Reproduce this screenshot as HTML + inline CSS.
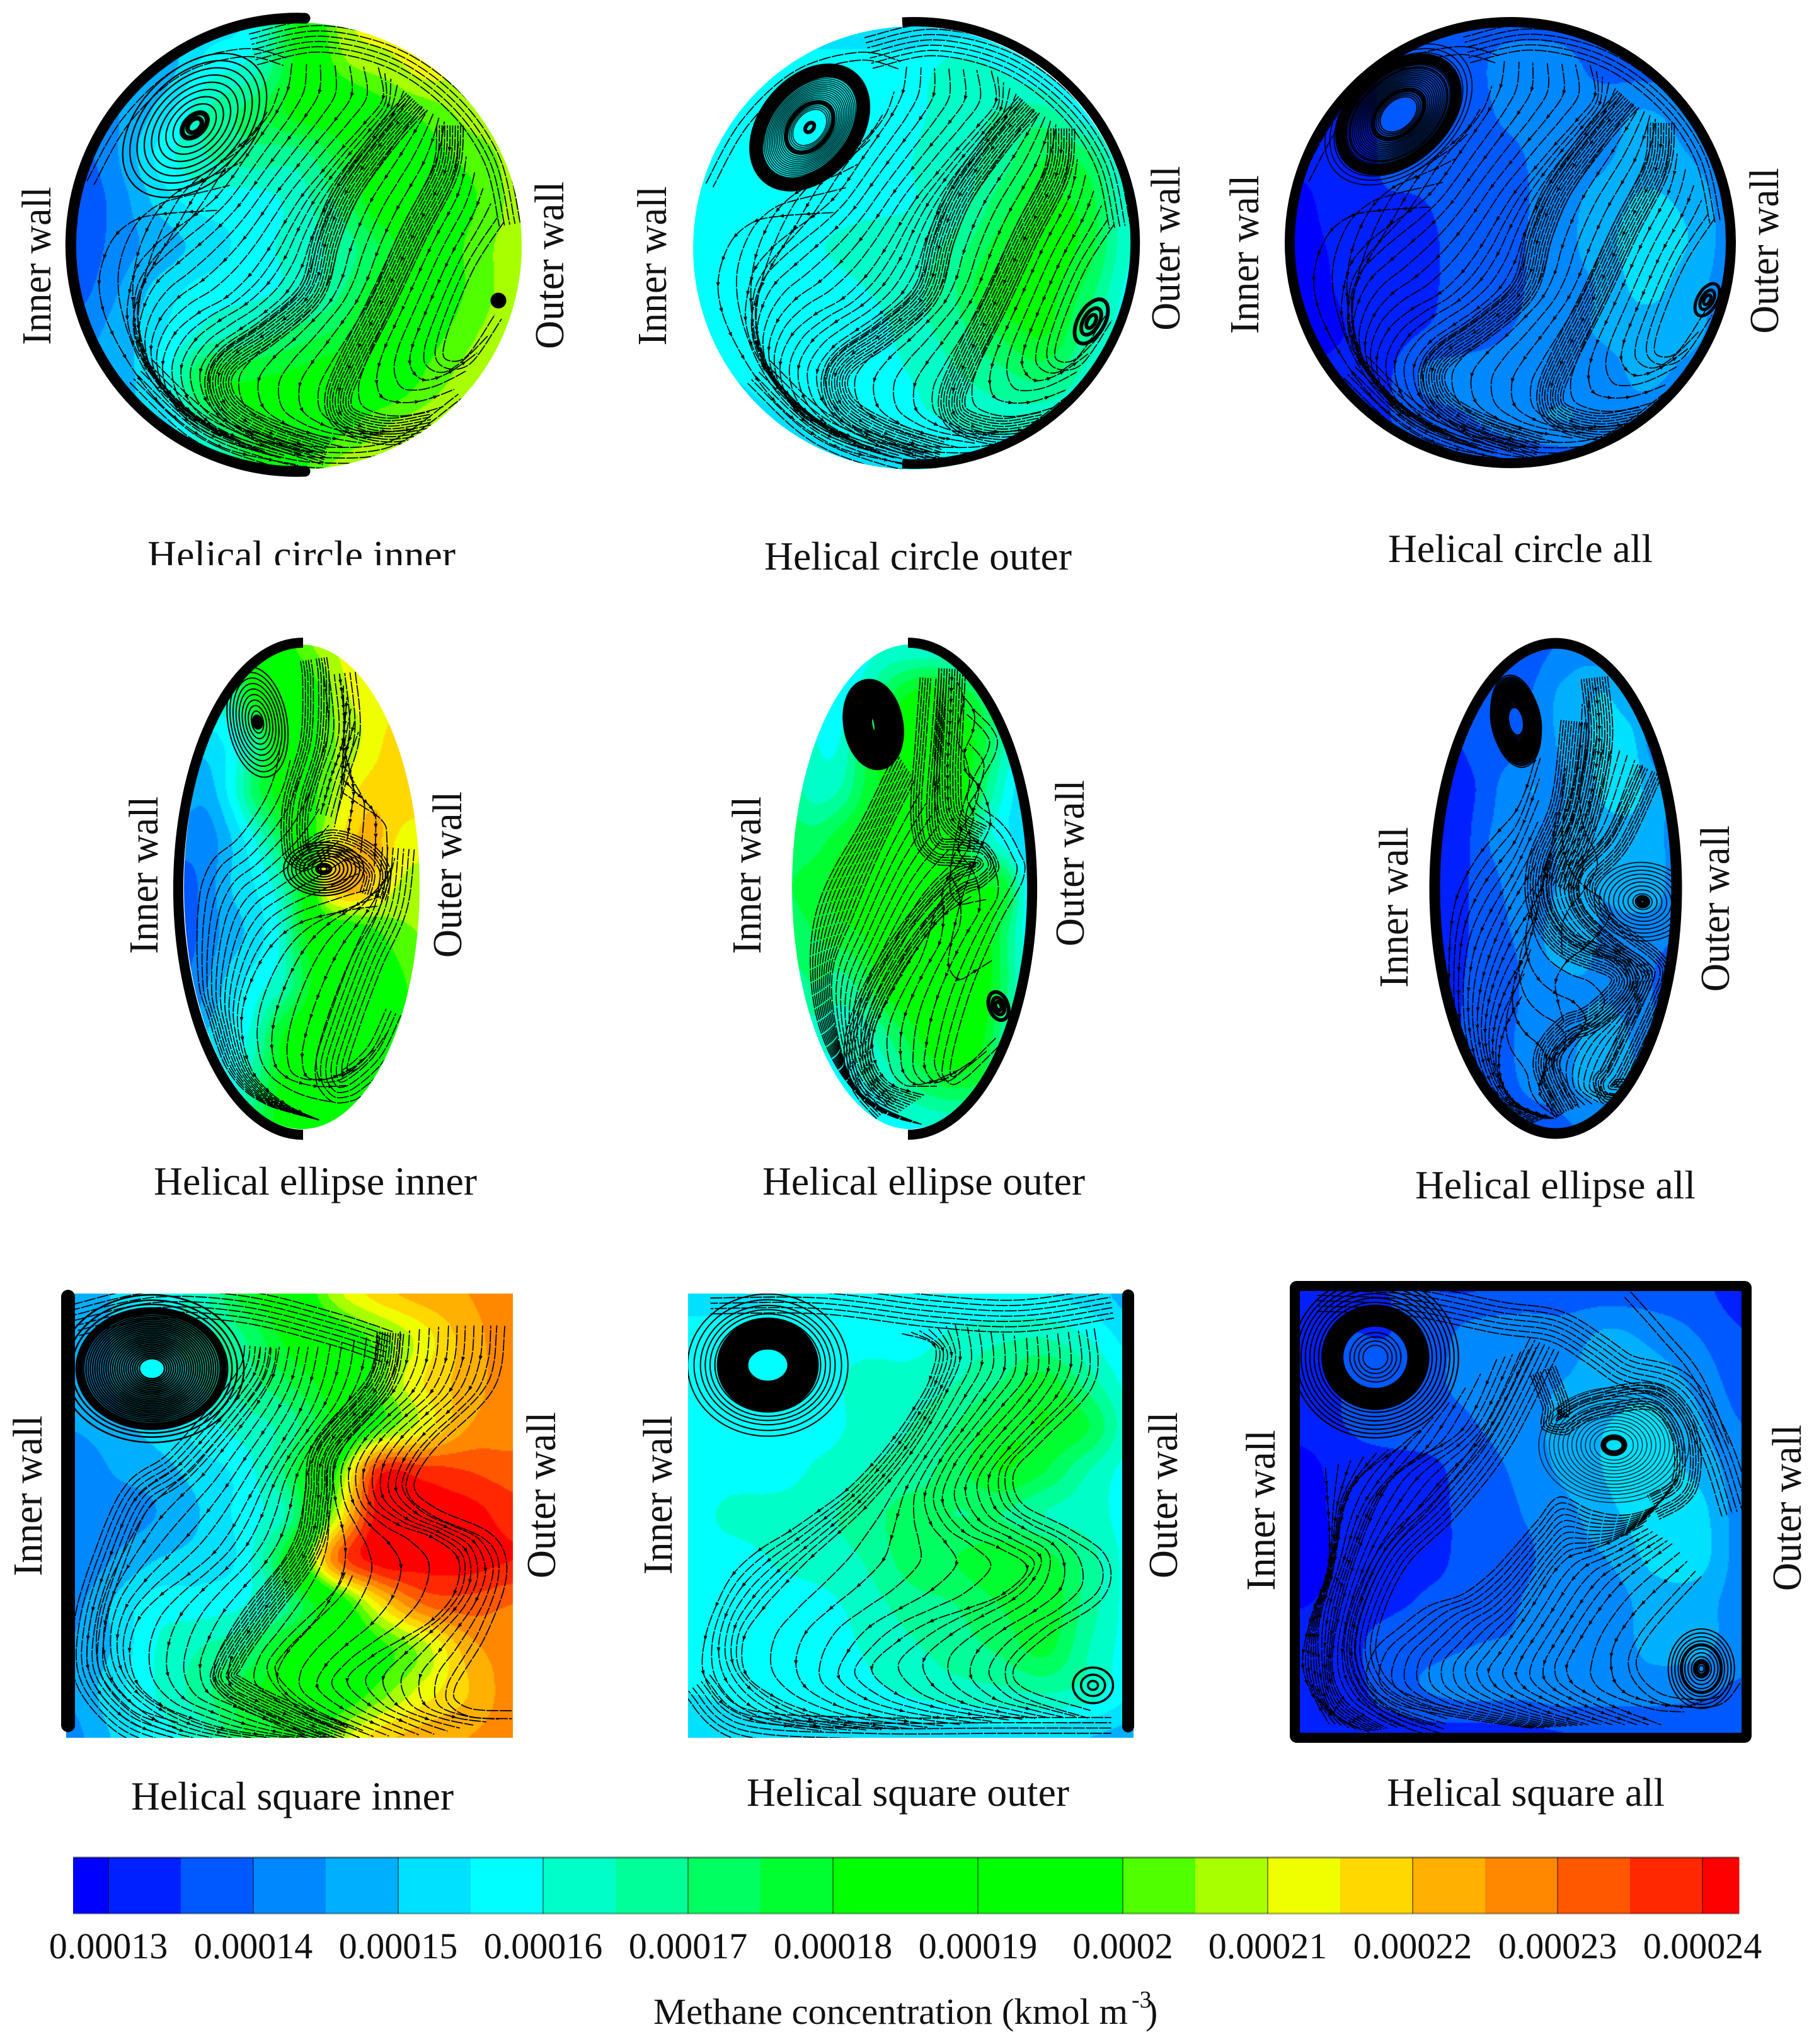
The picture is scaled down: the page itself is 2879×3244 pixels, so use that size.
<!DOCTYPE html>
<html lang="en">
<head>
<meta charset="utf-8">
<title>Methane concentration contours with streamlines</title>
<style>
html,body{margin:0;padding:0;background:#fff}
#stage{position:relative;width:2879px;height:3244px;overflow:hidden;background:#fff}
canvas{position:absolute;display:block}
svg#overlay{position:absolute;left:0;top:0}
text{font-family:"Liberation Serif","Times New Roman",serif;fill:#111}
.wall{fill:none;stroke:#000}
</style>
</head>
<body>
<div id="stage">
<svg id="overlay" xmlns="http://www.w3.org/2000/svg" width="2879" height="3244" viewBox="0 0 2879 3244">
  <defs>
    <marker id="flow-arrow" markerUnits="userSpaceOnUse" markerWidth="8" markerHeight="6" refX="4" refY="3" orient="auto"><path d="M0 0L8 3L0 6Z" fill="#000"/></marker>
    <clipPath id="caption-clip"><rect x="200" y="840" width="560" height="57"/></clipPath>
  </defs>
  <g id="flow-layer"></g>

  <path class="wall" stroke-width="17" stroke-linecap="round" d="M484 29A359.7 359.7 0 1 0 484 748"/>
  <path class="wall" stroke-width="15" d="M1432 35A351 351 0 1 1 1432 736"/>
  <ellipse class="wall" stroke-width="16" cx="2397" cy="385" rx="350" ry="350"/>
  <path class="wall" stroke-width="16" d="M481 1020A198 390.5 0 1 0 481 1801"/>
  <path class="wall" stroke-width="16" d="M1441 1020A197 390.5 0 1 1 1441 1801"/>
  <ellipse class="wall" stroke-width="17" cx="2469" cy="1410" rx="192" ry="389"/>
  <path class="wall" stroke-width="22" stroke-linecap="round" d="M108 2058V2738"/>
  <path class="wall" stroke-width="19" stroke-linecap="round" d="M1790.5 2056V2740"/>
  <rect class="wall" stroke-width="16" x="2055" y="2041" width="717" height="717" rx="3"/>

  <g font-size="66" text-anchor="middle">
    <text transform="translate(80 422) rotate(-90)" textLength="251" lengthAdjust="spacingAndGlyphs">Inner wall</text>
    <text transform="translate(894 421) rotate(-90)" textLength="266" lengthAdjust="spacingAndGlyphs">Outer wall</text>
    <text transform="translate(1057 422) rotate(-90)" textLength="253" lengthAdjust="spacingAndGlyphs">Inner wall</text>
    <text transform="translate(1872 394) rotate(-90)" textLength="261" lengthAdjust="spacingAndGlyphs">Outer wall</text>
    <text transform="translate(1997 404) rotate(-90)" textLength="252" lengthAdjust="spacingAndGlyphs">Inner wall</text>
    <text transform="translate(2822 398) rotate(-90)" textLength="263" lengthAdjust="spacingAndGlyphs">Outer wall</text>
    <text transform="translate(250 1389) rotate(-90)" textLength="250" lengthAdjust="spacingAndGlyphs">Inner wall</text>
    <text transform="translate(732 1388) rotate(-90)" textLength="264" lengthAdjust="spacingAndGlyphs">Outer wall</text>
    <text transform="translate(1207 1389) rotate(-90)" textLength="250" lengthAdjust="spacingAndGlyphs">Inner wall</text>
    <text transform="translate(1720 1370) rotate(-90)" textLength="264" lengthAdjust="spacingAndGlyphs">Outer wall</text>
    <text transform="translate(2234 1440) rotate(-90)" textLength="255" lengthAdjust="spacingAndGlyphs">Inner wall</text>
    <text transform="translate(2744 1442) rotate(-90)" textLength="264" lengthAdjust="spacingAndGlyphs">Outer wall</text>
    <text transform="translate(66 2374) rotate(-90)" textLength="255" lengthAdjust="spacingAndGlyphs">Inner wall</text>
    <text transform="translate(881 2373) rotate(-90)" textLength="264" lengthAdjust="spacingAndGlyphs">Outer wall</text>
    <text transform="translate(1066 2373) rotate(-90)" textLength="252" lengthAdjust="spacingAndGlyphs">Inner wall</text>
    <text transform="translate(1868 2373) rotate(-90)" textLength="264" lengthAdjust="spacingAndGlyphs">Outer wall</text>
    <text transform="translate(2023 2397) rotate(-90)" textLength="255" lengthAdjust="spacingAndGlyphs">Inner wall</text>
    <text transform="translate(2858 2393) rotate(-90)" textLength="264" lengthAdjust="spacingAndGlyphs">Outer wall</text>
  </g>

  <g font-size="64">
    <g clip-path="url(#caption-clip)">
      <text x="234" y="902" textLength="489" lengthAdjust="spacingAndGlyphs">Helical circle inner</text>
    </g>
    <text x="1213" y="904" textLength="488" lengthAdjust="spacingAndGlyphs">Helical circle outer</text>
    <text x="2203" y="892" textLength="420" lengthAdjust="spacingAndGlyphs">Helical circle all</text>
    <text x="244" y="1896" textLength="513" lengthAdjust="spacingAndGlyphs">Helical ellipse inner</text>
    <text x="1210" y="1896" textLength="512" lengthAdjust="spacingAndGlyphs">Helical ellipse outer</text>
    <text x="2246" y="1902" textLength="445" lengthAdjust="spacingAndGlyphs">Helical ellipse all</text>
    <text x="208" y="2872" textLength="512" lengthAdjust="spacingAndGlyphs">Helical square inner</text>
    <text x="1185" y="2866" textLength="512" lengthAdjust="spacingAndGlyphs">Helical square outer</text>
    <text x="2201" y="2866" textLength="441" lengthAdjust="spacingAndGlyphs">Helical square all</text>
  </g>

  <g id="colorbar"></g>

  <g>
    <text x="1037" y="3212" font-size="58" textLength="753" lengthAdjust="spacingAndGlyphs">Methane concentration (kmol m</text>
    <text x="1796" y="3186" font-size="38">-3</text>
    <text x="1818" y="3212" font-size="58">)</text>
  </g>
</svg>
</div>

<script>
/* Colour scale: one colour per contour band */
const levelColors = ['#0000ff','#0020ff','#0058ff','#0088ff','#00b0ff','#00e0ff','#00ffff','#00ffc8','#00ff98','#00ff60','#00ff30','#00ff00','#00ff00','#00ff00','#00ff00','#50ff00','#a8ff00','#f0ff00','#ffd800','#ffb000','#ff8800','#ff5800','#ff2800','#ff0000'];
const tickLabels = ['0.00013','0.00014','0.00015','0.00016','0.00017','0.00018','0.00019','0.0002','0.00021','0.00022','0.00023','0.00024'];

/* Concentration fields, sampled on an 11x11 grid over each panel.
   level = (c - 0.00013) / 0.000005 + 0.5, rounded to a colour band. */
const fieldCircleInner = [
[4,4,4.5,5,6,11,16,17,17,17,17],
[4,4,4,6,7,11,15,16,17,16,16],
[3,3.5,5,7.5,9,11,12,14,15,16,16],
[2,3.5,6,7.5,8,8,10,12,14,15,16],
[1.5,3,5,6,6,7,9,12,13,14.5,16],
[1.5,3,4,5,6,7,8,10,13,15,16],
[2,3.5,5,6,6.2,7,8.5,11,13,15,16],
[3,4,5.5,7,8,9,10,12,14,15.5,16],
[4,4,6,10,10.5,11,12,13,15,16,16],
[4,4.5,5,8,10.5,12,14,15.5,16,16,16],
[5,5,5.5,6,10,14,16,16,16,16,16]];
const fieldCircleOuter = [
[5,5,5,5,5,5,5,5,5,5,5],
[6,6,6,6,6,6,7,6.5,5.5,5,5],
[6,6,6,6,6,6.3,7,7.6,8,6,5],
[6,6,6,6,6,6.5,7,8,9.5,9,5.5],
[6,6,6,6,6.2,6.5,7,9,10.5,10,6.5],
[6,6,6,6.5,7,7,8,10,11,10,6.5],
[6,6,6,6,6.5,7.2,8.5,11,11,9,6],
[6,6,6,6,6,7,8,9.5,10.5,8,5.5],
[5.5,5.5,6,6,6,6.5,7.3,8,8.5,7,5.5],
[5,5,5.3,5.8,6,6.2,6.5,6.8,6.5,6,5],
[5,5,5,5,5,5,5.5,5.5,5,5,5]];
const fieldCircleAll = [
[1.5,1.5,1.5,1.5,2,2,2,2,2,2,2],
[1.5,1.5,1.5,1.7,2,3,3,2.2,2,2,2],
[1,1,1.5,2,2,2.8,3,3,3.5,3,2.5],
[1,1,1.5,2,2,2.3,3,3.2,4,3.5,2.6],
[0,0.9,1.4,1.5,2,2.2,3,3.8,4.6,4.2,3],
[0,0.6,1,1.2,2,2.3,3,4,5,4.5,3],
[0,0.5,0.9,1.2,2,2.3,3,3.6,4.8,4,3],
[0,0.4,0.8,1.5,2,2.5,2.9,3.6,4,3.8,3],
[0.7,0.7,1,2.6,2.9,2.9,3,3,3.7,3.2,2.7],
[1,1,1.3,2,2.4,3,3.5,3.3,3,2.6,2],
[1,1,1,1.5,1.6,1.6,1.8,1.9,1.8,1.6,1.5]];
const fieldEllipseInner = [
[8,9,10,11,13,15,16,17,17,17,17],
[8,7,8,11,13,13,15,16.5,17,17,17],
[5,5,6,8,11,13,15,16,17,18,18],
[4,4,6,9,11,13.5,15,17,18,18,18],
[3,3,4.5,6.5,9,12,16,18,19,17.5,17],
[2,3,4.5,5.5,7,10.5,17,19,18,16.5,16],
[2,3,4,5,6.5,10,12.5,13,14,15,15.5],
[2.5,3.5,5,6,7,9.5,12,13,13,14,15],
[3,4.5,5.5,7,10,11.5,13,13,13,13.5,15],
[4,5,6,8,10.5,12,13,13,13,14,15],
[5,6,7,9,11,12.5,13,14,14,15,15]];
const fieldEllipseOuter = [
[6,6,6,6,6.5,6.5,6.5,6.5,6,5.5,5],
[6,6,6,7,9,10.5,11,10,9,7,5.5],
[7,6.5,6.5,9,11,12,12,11.5,10,7.5,5.5],
[8,7,7.5,9.5,11,12,12,11.5,9,6.5,4.5],
[9,9,10,11,12,12,12,11,7.5,6,4.5],
[9.5,10,11,12,12,12,12,11,10.5,10,6],
[9,9.5,10,10.5,12,12,12,12,11.5,9,6],
[8,8.5,8,9,11,12,12,12,11.5,9,6],
[7,7,7,7,8.5,10,11.5,12,11,8,6],
[6,6,6,6.5,7,8.5,9.5,10,9.5,7,6],
[6,5.5,5.5,5.5,6,6.2,6.5,6.5,6,6,5.5]];
const fieldEllipseAll = [
[2,2,2,2,2,2.5,3,2.5,2,2,2],
[1.5,1.5,2,2,2.5,3.5,4,4.5,3.5,2.5,2],
[1.5,1.5,2,2,3,3.5,4,5,5,3,2.5],
[1,1,1.8,3,3.5,3.3,4,4.7,5,4,3],
[0.5,0.8,2.3,2.8,3,3.5,4,4,4,3.8,3.2],
[0.7,1.2,2,2.6,2.8,3.5,4,3.6,4,4,3],
[1,1.2,2,2.4,3,3.9,4,3.3,3,2.8,2.5],
[1,1.4,2,2,3,3.2,3.4,3.3,3,2.5,2],
[1.2,1.5,2,2.3,3,3,3.5,4,3.5,2.7,2],
[1.5,1.8,2,2.3,2.7,3,3.6,4,3.6,2.8,2],
[1.5,2,2,2,2,2,2.5,2.5,2,2,2]];
const fieldSquareInner = [
[4,4.5,6,7,10,12,16,18,19,19.5,20],
[4,4.5,6,7,8.5,11,13,15,17,19,20],
[3.5,4.5,6,6.5,8,9.5,11.5,15,17.5,19,20],
[3.5,4,5,6,7,8,11,14.5,17,19.5,20],
[2.5,3.5,4,5,6,9,14,22,22,21.5,21],
[2.5,3,3.5,4.5,6,8,16,23,23,23,22],
[2.5,3.5,4.5,5,6,11,20,23,23,23,22.5],
[3,4.5,6,6,6.5,8.5,12.5,17.5,20.5,21,20.5],
[3.5,4.5,6.5,7.5,8.5,11,12.5,14,16,19,20],
[3.5,5,6.5,8,10,11.5,13,15,17,18.5,20],
[3,4.5,6,7,9.5,11,15.5,18,19,19.5,20]];
const fieldSquareOuter = [
[5,5,5.5,5.5,5.5,5.5,5.5,5.5,5.5,5,4],
[6,6,6,6,6,6,6.8,7.3,7.5,6.5,5],
[6,6,6,6,7,7,7.5,8.5,10,8,6],
[6,6,6,6,7,7.5,8.5,10,10.5,9.5,6.5],
[6,6,6,6.8,7.5,8,9,10.5,9.5,7.5,6],
[6,6.8,7,7.3,8,9,8.5,8.5,7.5,7,6],
[6,6,6.6,7,7.6,9,9.5,10.3,10,8,6],
[6,6,6,6.2,7,8,8.5,9.5,10.2,8,6],
[6,6,6,6,6.6,7.3,8,8.7,9.8,7.5,6],
[5.5,5.7,6,6,6.2,6.6,7,7.2,7.5,7,5.5],
[5,5,5,5,5,5,5,5,5,4.5,4]];
const fieldSquareAll = [
[1,1,1.5,1.5,1.5,2,2,2,2,1.8,1],
[1,1.5,1.5,2,3,3,3,3.7,3.2,2.5,1.6],
[1,1.5,2,2.4,2.7,3,3.5,4,4,3.2,2],
[1,1.5,2,2.2,2.5,2.9,4,4.5,4.8,3.7,2.5],
[0,1,1.1,1.3,2.2,2.7,3.8,4.6,5,4.2,3],
[0,0.8,1,1.2,2,2.5,3.2,4.3,5,4.9,3],
[0,0.7,1,1.2,2,2.3,3,3.6,4.8,5,3],
[0.4,0.8,1.2,1.7,2,2.5,3,3,4,4,3],
[0.9,1.1,2,2.2,2.5,2.6,3,3,3.8,3.8,3],
[0.9,1,2,2.6,2.9,2.8,3.1,3,3,2.8,2.3],
[0.5,1,1,1.2,1.2,1.3,1.5,1.7,1.8,1.8,1.5]];

/* Spacing of parallel streamlines around a trace, as a share of panel size */
const offsetsDense = [-.03,-.024,-.018,-.012,-.006,.006,.012,.018,.024,.03];
const offsetsMid = [-.036,-.024,-.012,0,.012,.024,.036];
const offsetsPair = [-.012,.006];

/* Positions between two neighbouring traces at which a streamline runs */
const betweenDense = [0,.1,.2,.3,.4,.5,.6,.7,.8,.9];
const betweenMid = [0,.17,.33,.5,.67,.83];
const betweenSparse = [0,.3,.6];

/* Streamline traces */
const circleTraceA = [[.68,.10],[.69,.17],[.60,.28],[.50,.40],[.44,.50],[.36,.60],[.25,.67],[.20,.75],[.22,.85],[.30,.92],[.45,.97]];
const circleTraceB = [[.765,.178],[.696,.257],[.609,.378],[.565,.483],[.53,.604],[.435,.691],[.348,.752],[.322,.804],[.348,.865],[.435,.917],[.565,.961]];
const circleTraceC = [[.84,.23],[.83,.33],[.76,.47],[.69,.62],[.62,.76],[.59,.84],[.61,.89],[.70,.915],[.80,.90]];
const circleTraceD = [[.95,.44],[.88,.55],[.82,.70],[.82,.76],[.88,.76],[.95,.66]];
const circleTraceE = [[.32,.42],[.14,.44],[.07,.52],[.06,.62],[.11,.74],[.20,.86],[.33,.95],[.50,.99]];
const circleTraceF = [[.40,.06],[.55,.03],[.72,.07],[.86,.17],[.95,.30],[.985,.45]];
const circleTraceG = [[.15,.78],[.28,.90],[.42,.96],[.55,.985],[.72,.97],[.88,.86]];
const circleTraceH = [[.487,.091],[.47,.17],[.391,.291],[.313,.396],[.2,.483],[.139,.552],[.122,.683],[.191,.813],[.278,.9]];
const circleTraceI = [[.04,.36],[.12,.22],[.24,.11],[.38,.07],[.47,.09]];

/* Streamline traces */
const ellipseInnerTraceA = [[.41,.205],[.368,.295],[.245,.392],[.112,.452],[.061,.541],[.061,.69],[.102,.765],[.184,.877],[.327,.944],[.573,.981]];
const ellipseInnerTraceB = [[.82,.54],[.68,.55],[.47,.58],[.33,.65],[.245,.765],[.286,.877],[.418,.944],[.573,.981]];
const ellipseInnerTraceC = [[.91,.42],[.88,.54],[.777,.653],[.675,.787],[.624,.877],[.675,.914],[.828,.854],[.92,.765]];
const ellipseInnerTraceD = [[.757,.205],[.665,.317],[.726,.347],[.879,.384],[.91,.42],[.92,.51]];
const ellipseInnerTraceE = [[.55,.03],[.56,.08],[.55,.2],[.48,.32],[.47,.40],[.50,.44],[.62,.41],[.75,.43],[.82,.47],[.8,.52]];
const ellipseInnerTraceF = [[.66,.06],[.68,.18],[.62,.28],[.58,.35]];
const ellipseOuterTraceA = [[.60,.07],[.58,.2],[.56,.35],[.6,.42],[.72,.43],[.82,.44],[.80,.47],[.68,.5],[.5,.6],[.35,.72],[.28,.82],[.30,.9],[.40,.96]];
const ellipseOuterTraceB = [[.75,.14],[.85,.2],[.78,.28],[.76,.33],[.88,.38],[.95,.44],[.96,.48],[.85,.58],[.73,.72],[.65,.87],[.7,.9],[.88,.82]];
const ellipseOuterTraceC = [[.44,.22],[.3,.36],[.14,.5],[.08,.62],[.10,.76],[.2,.88],[.36,.96],[.55,.99]];
const ellipseOuterTraceD = [[.52,.28],[.38,.42],[.26,.56],[.17,.68],[.2,.82],[.28,.92],[.44,.97]];
const ellipseOuterTraceE = [[.68,.05],[.67,.16],[.66,.27],[.68,.36],[.8,.40]];
const ellipseOuterTraceF = [[.76,.52],[.6,.58],[.42,.72],[.34,.82],[.4,.9],[.56,.93]];
const ellipseAllTraceA = [[.577,.159],[.535,.326],[.44,.447],[.44,.538],[.545,.614],[.754,.659],[.775,.705],[.65,.765],[.545,.788],[.46,.856],[.545,.955]];
const ellipseAllTraceB = [[.89,.258],[.754,.402],[.618,.477],[.63,.538],[.754,.598],[.911,.659],[.9,.705],[.754,.864],[.702,.909],[.806,.917]];
const ellipseAllTraceC = [[.44,.19],[.35,.33],[.2,.42],[.09,.52],[.06,.65],[.08,.8],[.2,.93],[.4,.98]];
const ellipseAllTraceD = [[.42,.45],[.3,.55],[.2,.68],[.18,.8],[.26,.92],[.45,.97]];
const ellipseAllTraceE = [[.66,.07],[.68,.2],[.62,.36],[.52,.50]];
const ellipseAllTraceF = [[.36,.72],[.28,.8],[.27,.88],[.34,.94],[.5,.97]];

/* Streamline traces */
const squareInnerTraceA = [[.726,.088],[.702,.202],[.581,.349],[.565,.454],[.54,.576],[.435,.723],[.37,.821],[.362,.878],[.5,.951],[.621,1]];
const squareInnerTraceB = [[.435,.12],[.41,.2],[.257,.382],[.16,.455],[.095,.6],[.054,.739],[.054,.861],[.135,.959],[.24,1]];
const squareInnerTraceC = [[.564,.12],[.53,.25],[.435,.413],[.338,.576],[.2,.69],[.143,.78],[.176,.9],[.338,.975],[.5,1]];
const squareInnerTraceD = [[.856,.072],[.832,.202],[.702,.332],[.662,.438],[.726,.511],[.856,.568],[.88,.642],[.824,.731],[.678,.821],[.629,.878],[.694,.935],[.824,.992]];
const squareInnerTraceE = [[.97,.072],[.946,.21],[.81,.349],[.767,.438],[.824,.495],[.946,.552],[.974,.633],[.929,.764],[.856,.894],[.897,.944],[.998,.951]];
const squareInnerTraceF = [[.02,.06],[.2,.02],[.4,.03],[.6,.08],[.72,.12]];
const squareInnerTraceG = [[.63,.63],[.6,.68],[.48,.8],[.46,.86],[.54,.94],[.66,.995]];
const squareOuterTraceA = [[.48,.09],[.56,.13],[.50,.27],[.38,.42],[.25,.52],[.11,.62],[.04,.77],[.04,.87],[.12,.95],[.30,.985]];
const squareOuterTraceB = [[.6,.07],[.61,.15],[.52,.33],[.40,.48],[.27,.60],[.16,.72],[.12,.80],[.15,.88],[.30,.95],[.50,.98]];
const squareOuterTraceC = [[.76,.10],[.76,.18],[.64,.33],[.58,.42],[.58,.50],[.66,.56],[.75,.59],[.75,.65],[.65,.70],[.52,.75],[.42,.83],[.43,.88],[.55,.93],[.72,.96]];
const squareOuterTraceD = [[.9,.08],[.9,.2],[.78,.33],[.72,.40],[.74,.48],[.85,.54],[.93,.60],[.92,.68],[.80,.76],[.72,.84],[.75,.90],[.9,.95]];
const squareOuterTraceE = [[.05,.01],[.3,.01],[.55,.04],[.75,.05],[.95,.02]];
const squareOuterTraceF = [[.02,.88],[.12,.97],[.4,.99],[.7,.99],[.95,.99]];
const squareAllTraceLeftA = [[.058,.40],[.066,.61],[.025,.74],[.008,.86],[.066,.98]];
const squareAllTraceLeftB = [[.231,.35],[.116,.449],[.074,.638],[.041,.777],[.066,.941],[.157,.998]];
const squareAllTraceLeftC = [[.446,.154],[.364,.318],[.215,.416],[.124,.613],[.074,.818],[.1,.925],[.198,.99]];
const squareAllTraceLeftD = [[.554,.121],[.446,.334],[.331,.482],[.215,.597],[.149,.736],[.14,.843],[.2,.93],[.33,.98]];
const squareAllTraceMidA = [[.86,.416],[.80,.49],[.694,.507],[.579,.466],[.529,.531],[.397,.67],[.281,.72],[.149,.843],[.198,.925],[.364,.966],[.529,.99]];
const squareAllTraceMidB = [[.777,.531],[.678,.58],[.595,.613],[.512,.736],[.438,.843],[.43,.884],[.529,.941],[.653,.982]];
const squareAllTraceMidC = [[.843,.572],[.719,.67],[.628,.80],[.607,.875],[.694,.933],[.818,.982]];
const squareAllTraceMidD = [[.90,.638],[.777,.777],[.752,.859],[.818,.925],[.942,.933],[.992,.884]];
const squareAllTraceWave = [[.55,.18],[.58,.26],[.58,.30],[.66,.26],[.80,.24],[.87,.32],[.87,.44],[.80,.49]];
const squareAllTraceTop = [[.04,.01],[.25,.02],[.45,.06],[.58,.08],[.68,.14],[.74,.18],[.86,.22],[.94,.35],[.99,.5]];
const squareAllTraceCorner = [[.74,.01],[.82,.1],[.9,.2],[.96,.35]];

/* Rotating cores: centre x, centre y, semi-axis x, semi-axis y, tilt */
const coreCircleInnerMain = [.27,.23,.19,.125,-45];
const coreCircleInnerSmall = [.948,.622,.012,.012,0];
const coreCircleOuterMain = [.266,.228,.155,.105,-50];
const coreCircleOuterSmall = [.908,.666,.03,.055,30];
const coreCircleAllMain = [.248,.211,.16,.105,-42];
const coreCircleAllSmall = [.944,.629,.022,.04,30];
const coreEllipseInnerMain = [.312,.16,.125,.115,-10];
const coreEllipseInnerSecond = [.593,.463,.17,.055,0];
const coreEllipseOuterMain = [.345,.165,.125,.108,-10];
const coreEllipseOuterSmall = [.876,.746,.04,.03,-20];
const coreEllipseAllMain = [.336,.159,.1,.095,-10];
const coreEllipseAllSecond = [.859,.527,.2,.08,5];
const coreSquareInnerMain = [.192,.169,.166,.134,0];
const coreSquareOuterMain = [.179,.161,.18,.16,0];
const coreSquareOuterSmall = [.909,.882,.045,.04,0];
const coreSquareAllMain = [.171,.15,.165,.16,0];
const coreSquareAllSecond = [.711,.349,.17,.13,0];
const coreSquareAllThird = [.909,.855,.075,.09,0];

const ringsOpen = [.08,.2,.3,.4,.5,.6,.7,.8,.9,1];
const ringsFine = [.3,.33,.36,.39,.42,.45,.48,.51,.54,.57,.6,.63,.66,.69,.72,.75,.78,.81,.84,.87,.9,.93,.96,1];
const ringsSpaced = [.26,.32,.38,.44,.5,.56,.62,.68,.74,.8,.86,.93,1];
const ringsCrowded = [.17,.2,.23,.26,.29,.32,.35,.38,.41,.44,.47,.5,.53,.56,.59,.62,.65,.68,.71,.74,.77,.8,.83,.86,.89,.92,.95,.98,1.02,1.08,1.15,1.24];
const ringsOuterHalo = [.8,.86,.92,.98,1.05,1.12,1.2];

const svgNS = 'http://www.w3.org/2000/svg';
const flowLayer = document.getElementById('flow-layer');
const stage = document.getElementById('stage');

function bandForLevel(level) {
  return Math.max(0, Math.min(levelColors.length - 1, Math.round(level)));
}
function hexToRgb(hex) {
  return [parseInt(hex.slice(1,3),16), parseInt(hex.slice(3,5),16), parseInt(hex.slice(5,7),16)];
}
const levelRgb = levelColors.map(hexToRgb);

function cubic(a, b, c, d, t) {
  return b + 0.5*t*(c-a + t*(2*a-5*b+4*c-d + t*(3*(b-c)+d-a)));
}
function sampleField(field, u, v) {
  const n = field.length - 1, m = field[0].length - 1;
  const gx = u*m, gy = v*n;
  const ix = Math.min(m-1, Math.floor(gx)), iy = Math.min(n-1, Math.floor(gy));
  const tx = gx-ix, ty = gy-iy;
  const rowVals = [];
  for (let j = -1; j <= 2; j++) {
    const r = field[Math.max(0, Math.min(n, iy+j))];
    rowVals.push(cubic(r[Math.max(0,ix-1)], r[ix], r[ix+1], r[Math.min(m,ix+2)], tx));
  }
  return cubic(rowVals[0], rowVals[1], rowVals[2], rowVals[3], ty);
}

function drawField(slug, field, box, round) {
  const canvas = document.createElement('canvas');
  
  
  const w = Math.round(box.w/2), h = Math.round(box.h/2);
  canvas.width = w; canvas.height = h;
  canvas.style.left = box.x + 'px';
  canvas.style.top = box.y + 'px';
  canvas.style.width = box.w + 'px';
  canvas.style.height = box.h + 'px';
  if (round) canvas.style.clipPath = 'ellipse(50% 50% at 50% 50%)';
  const ctx = canvas.getContext('2d');
  const img = ctx.createImageData(w, h);
  for (let y = 0; y < h; y++) for (let x = 0; x < w; x++) {
    const rgb = levelRgb[bandForLevel(sampleField(field, (x+.5)/w, (y+.5)/h))];
    const i = (y*w+x)*4;
    img.data[i] = rgb[0]; img.data[i+1] = rgb[1]; img.data[i+2] = rgb[2]; img.data[i+3] = 255;
  }
  ctx.putImageData(img, 0, 0);
  stage.insertBefore(canvas, stage.firstChild);
}

function toPixels(trace, box) {
  return trace.map(p => [box.x + p[0]*box.w, box.y + p[1]*box.h]);
}
/* Catmull-Rom refinement so resampled traces keep their curvature */
function refine(pts) {
  const out = [];
  for (let i = 0; i < pts.length-1; i++) {
    const p0 = pts[Math.max(0,i-1)], p1 = pts[i], p2 = pts[i+1], p3 = pts[Math.min(pts.length-1,i+2)];
    for (let s = 0; s < 8; s++) {
      const t = s/8;
      out.push([cubic(p0[0],p1[0],p2[0],p3[0],t), cubic(p0[1],p1[1],p2[1],p3[1],t)]);
    }
  }
  out.push(pts[pts.length-1]);
  return out;
}
function shifted(pts, px) {
  const n = pts.length;
  return pts.map((p, i) => {
    const a = pts[Math.max(0,i-1)], b = pts[Math.min(n-1,i+1)];
    const tx = b[0]-a[0], ty = b[1]-a[1], l = Math.hypot(tx,ty) || 1;
    return [p[0]-ty/l*px, p[1]+tx/l*px];
  });
}
function resample(pts, count) {
  const lens = [0];
  for (let i = 1; i < pts.length; i++) lens.push(lens[i-1] + Math.hypot(pts[i][0]-pts[i-1][0], pts[i][1]-pts[i-1][1]));
  const total = lens[lens.length-1], out = [];
  let k = 0;
  for (let j = 0; j < count; j++) {
    const s = total*j/(count-1);
    while (k < pts.length-2 && lens[k+1] < s) k++;
    const t = (s-lens[k])/((lens[k+1]-lens[k]) || 1);
    out.push([pts[k][0]+(pts[k+1][0]-pts[k][0])*t, pts[k][1]+(pts[k+1][1]-pts[k][1])*t]);
  }
  return out;
}
function smoothPath(pts) {
  let d = 'M' + pts[0][0].toFixed(1) + ' ' + pts[0][1].toFixed(1);
  for (let i = 0; i < pts.length-1; i++) {
    const p0 = pts[Math.max(0,i-1)], p1 = pts[i], p2 = pts[i+1], p3 = pts[Math.min(pts.length-1,i+2)];
    d += 'C' + (p1[0]+(p2[0]-p0[0])/6).toFixed(1) + ' ' + (p1[1]+(p2[1]-p0[1])/6).toFixed(1) + ' ' +
         (p2[0]-(p3[0]-p1[0])/6).toFixed(1) + ' ' + (p2[1]-(p3[1]-p1[1])/6).toFixed(1) + ' ' +
         p2[0].toFixed(1) + ' ' + p2[1].toFixed(1);
  }
  return d;
}

function makePanelGroup(slug, box, round) {
  const clip = document.createElementNS(svgNS, 'clipPath');
  clip.setAttribute('id', 'clip-' + slug);
  let shape;
  if (round) {
    shape = document.createElementNS(svgNS, 'ellipse');
    shape.setAttribute('cx', box.x + box.w/2);
    shape.setAttribute('cy', box.y + box.h/2);
    shape.setAttribute('rx', box.w/2);
    shape.setAttribute('ry', box.h/2);
  } else {
    shape = document.createElementNS(svgNS, 'rect');
    shape.setAttribute('x', box.x);
    shape.setAttribute('y', box.y);
    shape.setAttribute('width', box.w);
    shape.setAttribute('height', box.h);
  }
  clip.appendChild(shape);
  flowLayer.appendChild(clip);
  const g = document.createElementNS(svgNS, 'g');
  g.setAttribute('clip-path', 'url(#clip-' + slug + ')');
  
  
  g.setAttribute('fill', 'none');
  g.setAttribute('stroke', '#000');
  flowLayer.appendChild(g);
  return g;
}

function appendLine(group, pts, arrows, phase) {
  const line = document.createElementNS(svgNS, 'path');
  
  
  line.setAttribute('d', smoothPath(pts));
  line.setAttribute('stroke-width', '1.7');
  line.setAttribute('stroke-dasharray', '19 2');
  line.setAttribute('stroke-dashoffset', String(phase * 7));
  if (arrows) line.setAttribute('marker-mid', 'url(#flow-arrow)');
  group.appendChild(line);
}

/* A bundle of close parallel streamlines around one trace */
function drawBundle(group, box, trace, offsets) {
  const base = resample(refine(toPixels(trace, box)), 40);
  offsets.forEach((off, i) => appendLine(group, shifted(base, off*700), false, i));
}

/* Streamlines spread across the gap between two neighbouring traces */
function drawSpread(group, box, first, second, positions) {
  const a = resample(refine(toPixels(first, box)), 18);
  const b = resample(refine(toPixels(second, box)), 18);
  positions.forEach((t, i) => {
    const pts = a.map((p, j) => [p[0]+(b[j][0]-p[0])*t, p[1]+(b[j][1]-p[1])*t]);
    appendLine(group, pts, i % 2 === 0 && positions.length < 8, i);
  });
}

function drawCore(group, box, core, fractions, width, opacity) {
  const cx = box.x + core[0]*box.w, cy = box.y + core[1]*box.h;
  fractions.forEach(f => {
    const ring = document.createElementNS(svgNS, 'ellipse');
    
    
    ring.setAttribute('cx', cx);
    ring.setAttribute('cy', cy);
    ring.setAttribute('rx', core[2]*box.w*f);
    ring.setAttribute('ry', core[3]*box.h*f);
    ring.setAttribute('transform', 'rotate(' + core[4] + ' ' + cx + ' ' + cy + ')');
    ring.setAttribute('stroke-width', width);
    ring.setAttribute('stroke-opacity', opacity);
    group.appendChild(ring);
  });
}

function drawPanel(slug, field, box, round, spreads, bundles, cores) {
  drawField(slug, field, box, round);
  const g = makePanelGroup(slug, box, round);
  spreads.forEach(s => drawSpread(g, box, s[0], s[1], s[2]));
  bundles.forEach(t => drawBundle(g, box, t[0], t[1]));
  cores.forEach(c => drawCore(g, box, c[0], c[1], c[2], c[3]));
}

const circleSpreads = [
  [circleTraceE, circleTraceH, betweenMid],
  [circleTraceH, circleTraceA, betweenMid],
  [circleTraceA, circleTraceB, betweenMid],
  [circleTraceB, circleTraceC, betweenMid],
  [circleTraceC, circleTraceD, betweenMid]
];
const circleBundles = [
  [circleTraceB, offsetsDense], [circleTraceC, offsetsDense], [circleTraceF, offsetsMid],
  [circleTraceG, offsetsMid], [circleTraceD, offsetsPair], [circleTraceI, offsetsPair]
];

drawPanel('circle-inner', fieldCircleInner, {x:117,y:36,w:711,h:709}, true, circleSpreads, circleBundles, [
  [coreCircleInnerMain, ringsOpen, 2.2, 1],
  [coreCircleInnerMain, [.1,.17], 7, 1],
  [coreCircleInnerSmall, [.5,1], 8, 1]
]);
drawPanel('circle-outer', fieldCircleOuter, {x:1100,y:42,w:696,h:703}, true, circleSpreads, circleBundles, [
  [coreCircleOuterMain, ringsFine, 1.7, .85],
  [coreCircleOuterMain, [.95], 22, 1],
  [coreCircleOuterMain, [.42], 7, 1],
  [coreCircleOuterMain, [.08], 6, 1],
  [coreCircleOuterSmall, [.3,.6,1], 6, 1]
]);
drawPanel('circle-all', fieldCircleAll, {x:2045,y:33,w:704,h:704}, true, circleSpreads, circleBundles, [
  [coreCircleAllMain, ringsFine, 2.1, .9],
  [coreCircleAllMain, [.95], 16, 1],
  [coreCircleAllMain, [.42], 6, 1],
  [coreCircleAllMain, ringsOuterHalo, 1.8, .9],
  [coreCircleAllSmall, [.3,.6,1], 5, 1]
]);
drawPanel('ellipse-inner', fieldEllipseInner, {x:292,y:1023,w:374,h:769}, true, [
  [ellipseInnerTraceA, ellipseInnerTraceB, betweenDense],
  [ellipseInnerTraceB, ellipseInnerTraceC, betweenMid],
  [ellipseInnerTraceF, ellipseInnerTraceD, betweenMid]
], [
  [ellipseInnerTraceE, offsetsDense], [ellipseInnerTraceF, offsetsMid], [ellipseInnerTraceC, offsetsMid]
], [
  [coreEllipseInnerMain, ringsOpen, 2, 1],
  [coreEllipseInnerMain, [.08], 10, 1],
  [coreEllipseInnerSecond, ringsOpen, 2.2, 1],
  [coreEllipseInnerSecond, [.16], 6, 1]
]);
drawPanel('ellipse-outer', fieldEllipseOuter, {x:1257,y:1023,w:374,h:769}, true, [
  [ellipseOuterTraceC, ellipseOuterTraceD, betweenDense],
  [ellipseOuterTraceD, ellipseOuterTraceF, betweenDense],
  [ellipseOuterTraceF, ellipseOuterTraceB, betweenMid],
  [ellipseOuterTraceE, ellipseOuterTraceB, betweenSparse]
], [
  [ellipseOuterTraceA, offsetsDense], [ellipseOuterTraceE, offsetsDense], [ellipseOuterTraceB, offsetsPair]
], [
  [coreEllipseOuterMain, [.35,.7], 30, 1],
  [coreEllipseOuterSmall, [.3,.6,1], 6, 1]
]);
drawPanel('ellipse-all', fieldEllipseAll, {x:2277,y:1021,w:384,h:778}, true, [
  [ellipseAllTraceC, ellipseAllTraceD, betweenMid],
  [ellipseAllTraceD, ellipseAllTraceF, betweenMid],
  [ellipseAllTraceF, ellipseAllTraceA, betweenMid],
  [ellipseAllTraceA, ellipseAllTraceB, betweenDense],
  [ellipseAllTraceE, ellipseAllTraceA, betweenSparse]
], [
  [ellipseAllTraceA, offsetsDense], [ellipseAllTraceB, offsetsDense], [ellipseAllTraceE, offsetsDense]
], [
  [coreEllipseAllMain, ringsFine, 2.2, .95],
  [coreEllipseAllMain, [.66], 30, 1],
  [coreEllipseAllSecond, ringsOpen, 1.8, .9],
  [coreEllipseAllSecond, [.06,.12], 6, 1]
]);
drawPanel('square-inner', fieldSquareInner, {x:105,y:2053,w:709,h:705}, false, [
  [squareInnerTraceB, squareInnerTraceC, betweenMid],
  [squareInnerTraceC, squareInnerTraceA, betweenMid],
  [squareInnerTraceA, squareInnerTraceD, betweenMid],
  [squareInnerTraceD, squareInnerTraceE, betweenMid]
], [
  [squareInnerTraceA, offsetsDense], [squareInnerTraceB, offsetsMid], [squareInnerTraceF, offsetsMid],
  [squareInnerTraceG, offsetsPair], [squareInnerTraceE, offsetsPair]
], [
  [coreSquareInnerMain, ringsCrowded, 2.6, 1],
  [coreSquareInnerMain, [.97], 9, 1]
]);
drawPanel('square-outer', fieldSquareOuter, {x:1092,y:2053,w:707,h:705}, false, [
  [squareOuterTraceA, squareOuterTraceB, betweenMid],
  [squareOuterTraceB, squareOuterTraceC, betweenMid],
  [squareOuterTraceC, squareOuterTraceD, betweenMid]
], [
  [squareOuterTraceE, offsetsMid], [squareOuterTraceF, offsetsMid], [squareOuterTraceD, offsetsPair]
], [
  [coreSquareOuterMain, [1,.92,.84,.78,.72,.66], 2, 1],
  [coreSquareOuterMain, [.44], 50, 1],
  [coreSquareOuterSmall, [.25,.6,1], 3.5, 1]
]);
drawPanel('square-all', fieldSquareAll, {x:2063,y:2049,w:701,h:701}, false, [
  [squareAllTraceLeftA, squareAllTraceLeftB, betweenMid],
  [squareAllTraceLeftB, squareAllTraceLeftC, betweenMid],
  [squareAllTraceLeftC, squareAllTraceLeftD, betweenMid],
  [squareAllTraceMidA, squareAllTraceMidB, betweenDense],
  [squareAllTraceMidB, squareAllTraceMidC, betweenMid],
  [squareAllTraceMidC, squareAllTraceMidD, betweenSparse]
], [
  [squareAllTraceLeftD, offsetsMid], [squareAllTraceWave, offsetsDense], [squareAllTraceTop, offsetsMid],
  [squareAllTraceCorner, offsetsPair], [squareAllTraceMidD, offsetsPair]
], [
  [coreSquareAllMain, [.78,.84,.9,.96,1.02,1.08,1.14], 2.2, 1],
  [coreSquareAllMain, [.59], 35, 1],
  [coreSquareAllMain, [.17,.23,.29,.35], 2.2, .85],
  [coreSquareAllSecond, ringsSpaced, 1.5, .8],
  [coreSquareAllSecond, [.14], 9, 1],
  [coreSquareAllThird, ringsOpen, 2, 1],
  [coreSquareAllThird, [.6], 5, 1],
  [coreSquareAllThird, [.18], 8, 1]
]);

/* Colour bar: axis functions map a band or tick index to x */
const barLeft = 116, barRight = 2760, barTop = 2948, barBottom = 3037, firstTick = 172, bandWidth = 115;
function bandLeft(i) { return i === 0 ? barLeft : firstTick + (i-1)*bandWidth; }
function bandRight(i) { return i === levelColors.length-1 ? barRight : firstTick + i*bandWidth; }
function tickX(i) { return firstTick + i*2*bandWidth; }

const bar = document.getElementById('colorbar');
levelColors.forEach((color, i) => {
  const cell = document.createElementNS(svgNS, 'rect');
  
  
  cell.setAttribute('x', bandLeft(i));
  cell.setAttribute('y', barTop);
  cell.setAttribute('width', bandRight(i) - bandLeft(i) + .5);
  cell.setAttribute('height', barBottom - barTop);
  cell.setAttribute('fill', color);
  bar.appendChild(cell);
});
tickLabels.forEach((label, i) => {
  const tick = document.createElementNS(svgNS, 'line');
  
  
  tick.setAttribute('x1', tickX(i));
  tick.setAttribute('x2', tickX(i));
  tick.setAttribute('y1', barTop);
  tick.setAttribute('y2', barBottom);
  tick.setAttribute('stroke', '#000');
  tick.setAttribute('stroke-opacity', '.55');
  tick.setAttribute('stroke-width', '1.6');
  bar.appendChild(tick);
  const txt = document.createElementNS(svgNS, 'text');
  
  
  txt.setAttribute('x', tickX(i));
  txt.setAttribute('y', 3108);
  txt.setAttribute('font-size', '58');
  txt.setAttribute('text-anchor', 'middle');
  txt.textContent = label;
  bar.appendChild(txt);
});
[[barTop, '.45', 3], [barBottom, '.3', 3]].forEach(edge => {
  const rule = document.createElementNS(svgNS, 'line');
  
  
  rule.setAttribute('x1', barLeft);
  rule.setAttribute('x2', barRight);
  rule.setAttribute('y1', edge[0]);
  rule.setAttribute('y2', edge[0]);
  rule.setAttribute('stroke', '#000');
  rule.setAttribute('stroke-opacity', edge[1]);
  rule.setAttribute('stroke-width', edge[2]);
  bar.appendChild(rule);
});
</script>
</body>
</html>
